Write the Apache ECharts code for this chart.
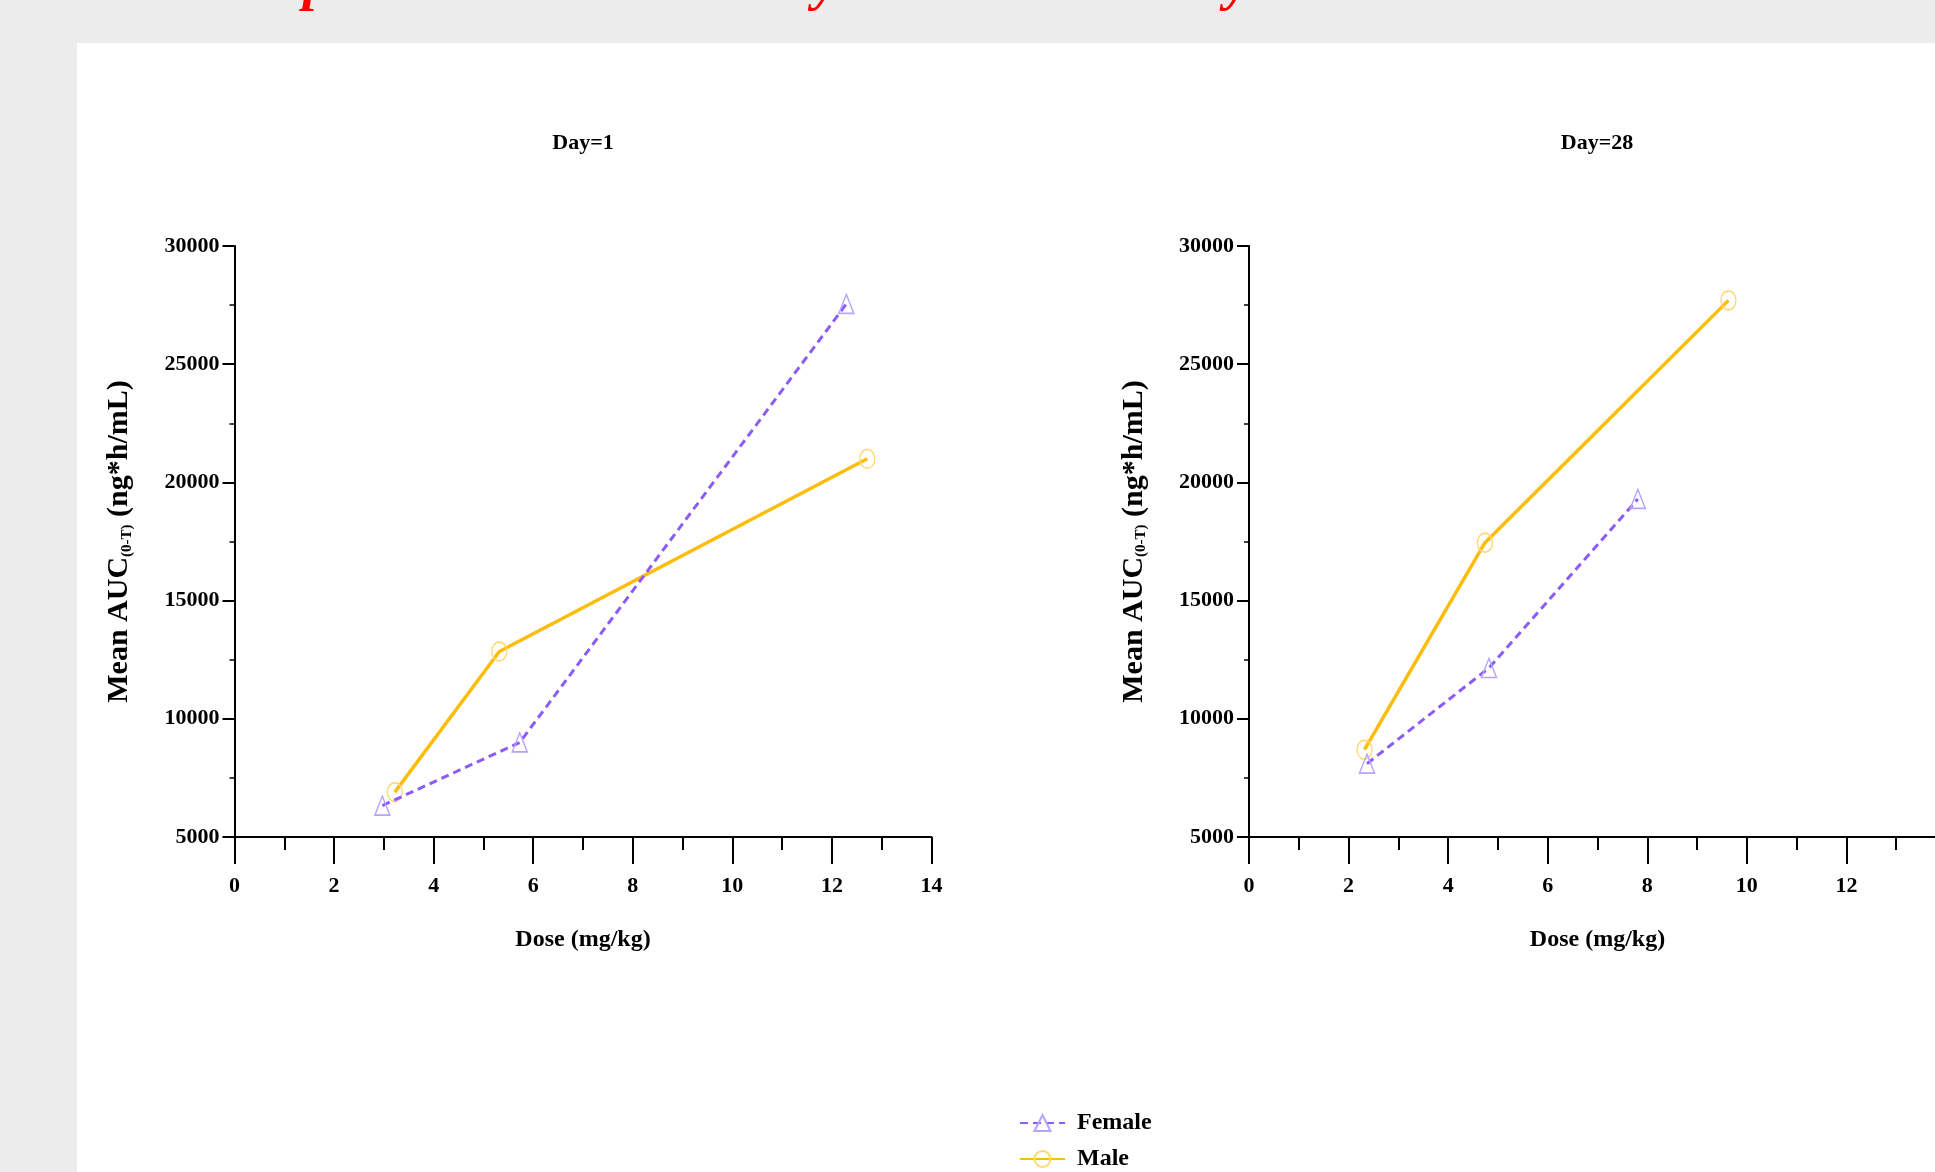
<!DOCTYPE html>
<html>
<head>
<meta charset="utf-8">
<script src="https://cdn.jsdelivr.net/npm/echarts@6/dist/echarts.min.js"></script>
<style>
  html, body { margin: 0; padding: 0; background: #ececec; overflow: hidden; }
  #panel { position: absolute; left: 77px; top: 43px; right: 0; bottom: 0; background: #fff; }
  #main { position: absolute; left: 0; top: 0; width: 1935px; height: 1172px; }
</style>
</head>
<body>
<div id="panel"></div>
<div id="main"></div>
<script>
// dose (mg/kg) and mean AUC(0-T)
var day1FemaleDose = [2.97, 5.73, 12.29];
var day1FemaleAuc = [6330, 9000, 27550];
var day1MaleDose = [3.22, 5.32, 12.71];
var day1MaleAuc = [6900, 12850, 21000];
var day28FemaleDose = [2.37, 4.82, 7.81];
var day28FemaleAuc = [8100, 12150, 19300];
var day28MaleDose = [2.32, 4.74, 9.63];
var day28MaleAuc = [8700, 17450, 27700];

var panelTitles = ['Day=1', 'Day=28'];
var seriesNames = ['Female', 'Male'];

var serif = '"Liberation Serif", "Times New Roman", serif';
var purple = '#8b5cf6';
var gold = '#fbbc0a';

function pairs(xs, ys) {
    return xs.map(function (x, i) { return [x, ys[i]]; });
}

function xAxisFor(idx) {
    return {
        type: 'value', gridIndex: idx, min: 0, max: 14, interval: 2,
        name: 'Dose (mg/kg)', nameLocation: 'middle', nameGap: 91,
        nameTextStyle: { fontFamily: serif, fontWeight: 'bold', fontSize: 24, color: '#000' },
        axisLine: { show: true, onZero: false, lineStyle: { color: '#000', width: 2 } },
        axisTick: { show: true, length: 27, lineStyle: { color: '#000', width: 2 } },
        minorTick: { show: true, splitNumber: 2, length: 13, lineStyle: { color: '#000', width: 2 } },
        axisLabel: { margin: 38, fontFamily: serif, fontWeight: 'bold', fontSize: 22, color: '#000' },
        splitLine: { show: false }
    };
}

function yAxisFor(idx) {
    return {
        type: 'value', gridIndex: idx, min: 5000, max: 30000, interval: 5000,
        name: '{a|Mean AUC}{b|(0-T)}{a| (ng*h/mL)}', nameLocation: 'middle', nameGap: 100,
        nameTextStyle: {
            rich: {
                a: { fontFamily: serif, fontWeight: 'bold', fontSize: 30, color: '#000' },
                b: { fontFamily: serif, fontWeight: 'bold', fontSize: 15, color: '#000', verticalAlign: 'bottom', padding: [10, 0, 0, 0] }
            }
        },
        axisLine: { show: true, onZero: false, lineStyle: { color: '#000', width: 2 } },
        axisTick: { show: true, length: 12, lineStyle: { color: '#000', width: 2 } },
        minorTick: { show: true, splitNumber: 2, length: 5, lineStyle: { color: '#000', width: 1.5 } },
        axisLabel: {
            margin: 15, fontFamily: serif, fontWeight: 'bold', fontSize: 22, color: '#000',
            formatter: function (v) { return String(v); }
        },
        splitLine: { show: false }
    };
}

function femaleSeries(idx, data) {
    return {
        name: seriesNames[0], type: 'line', xAxisIndex: idx, yAxisIndex: idx, data: data,
        symbol: 'triangle', symbolSize: [15, 19],
        lineStyle: { color: purple, width: 3, type: [8, 5] },
        itemStyle: { color: 'rgba(255,255,255,0)', borderColor: '#b7a3fb', borderWidth: 1.5 },
        emphasis: { disabled: true }, z: 3
    };
}

function maleSeries(idx, data) {
    return {
        name: seriesNames[1], type: 'line', xAxisIndex: idx, yAxisIndex: idx, data: data,
        symbol: 'circle', symbolSize: [15, 19],
        lineStyle: { color: gold, width: 3.5 },
        itemStyle: { color: 'rgba(255,255,255,0)', borderColor: '#ffd873', borderWidth: 1.5 },
        emphasis: { disabled: true }, z: 2
    };
}

var chart = echarts.init(document.getElementById('main'));
chart.setOption({
    animation: false,
    backgroundColor: 'transparent',
    graphic: [
        { type: 'text', x: 197, y: -15, style: { text: 'Comparison in AUC: Steady State vs Start Day', font: 'italic bold 54.5px ' + serif, fill: '#ff0000', verticalAlign: 'middle' } },
        { type: 'text', x: 583, y: 143, style: { text: panelTitles[0], font: 'bold 22px ' + serif, fill: '#000', align: 'center', verticalAlign: 'middle' } },
        { type: 'text', x: 1597, y: 143, style: { text: panelTitles[1], font: 'bold 22px ' + serif, fill: '#000', align: 'center', verticalAlign: 'middle' } }
    ],
    legend: {
        data: seriesNames,
        orient: 'vertical', left: 1019, top: 1111, height: 90, padding: 0,
        itemWidth: 45, itemHeight: 20, itemGap: 12,
        textStyle: { fontFamily: serif, fontWeight: 'bold', fontSize: 24, color: '#000', padding: [0, 0, 0, 7] }
    },
    grid: [
        { left: 234.5, top: 246, width: 697, height: 591, outerBoundsMode: 'none' },
        { left: 1249, top: 246, width: 697, height: 591, outerBoundsMode: 'none' }
    ],
    xAxis: [xAxisFor(0), xAxisFor(1)],
    yAxis: [yAxisFor(0), yAxisFor(1)],
    series: [
        femaleSeries(0, pairs(day1FemaleDose, day1FemaleAuc)),
        maleSeries(0, pairs(day1MaleDose, day1MaleAuc)),
        femaleSeries(1, pairs(day28FemaleDose, day28FemaleAuc)),
        maleSeries(1, pairs(day28MaleDose, day28MaleAuc))
    ]
});
</script>
</body>
</html>
